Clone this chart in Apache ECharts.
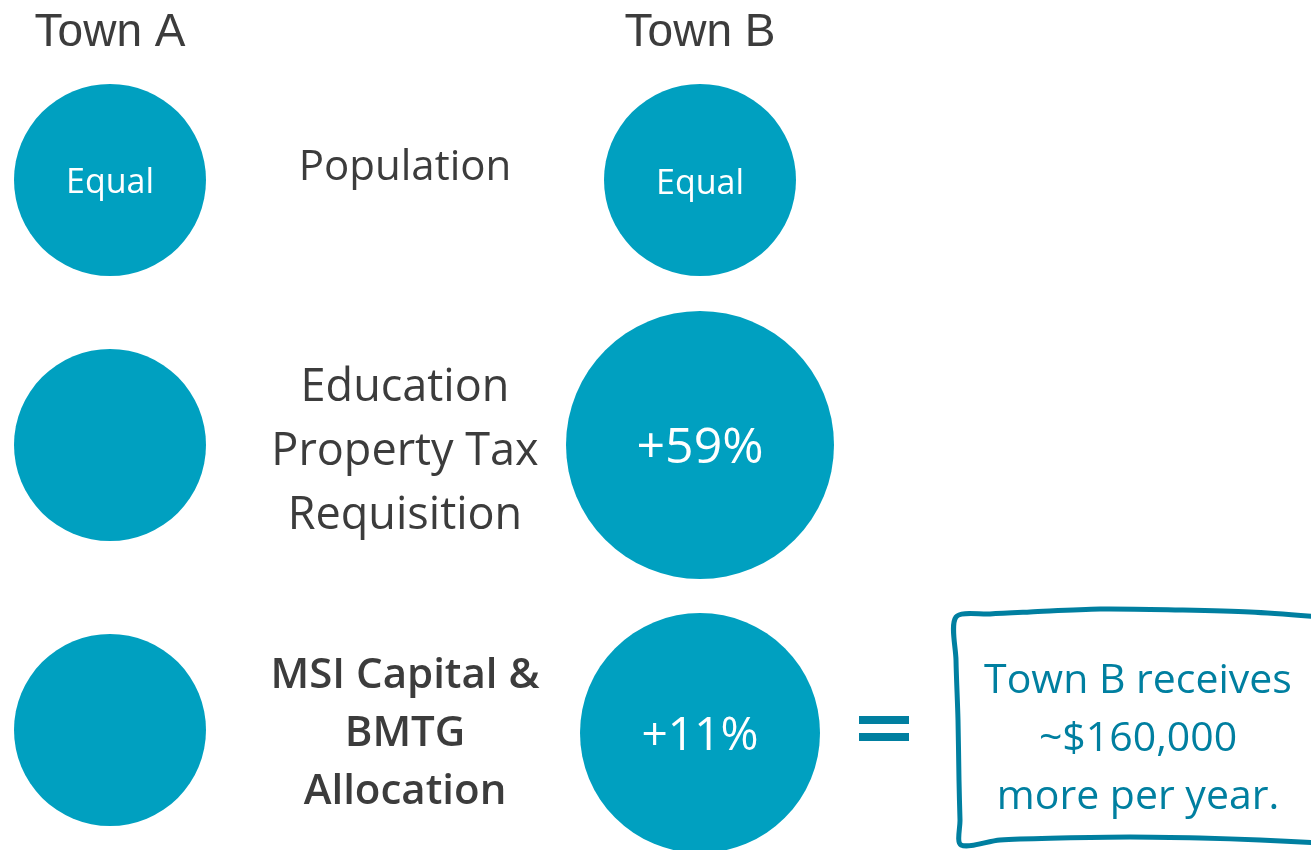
<!DOCTYPE html>
<html>
<head>
<meta charset="utf-8">
<script src="https://cdn.jsdelivr.net/npm/echarts@6/dist/echarts.min.js"></script>
<style>
  html, body { margin: 0; padding: 0; background: #fff; }
  #main { width: 1311px; height: 850px; }
</style>
</head>
<body>
<div id="main"></div>
<script>
// columns and rows
var towns = ['Town A', 'Town B'];
var metrics = ['Population', 'Education\nProperty Tax\nRequisition', 'MSI Capital &\nBMTG\nAllocation'];
// circle diameters (px)
var townASize = [192, 192, 192];
var townBSize = [192, 268, 240];
var townALabels = ['Equal', '', ''];
var townBLabels = ['Equal', '+59%', '+11%'];
var summary = 'Town B receives\n~$160,000\nmore per year.';

// layout (not data)
var colX = [110, 405, 700];
var rowY = [180, 445, 730];
var rowYB = [180, 445, 733];
var teal = '#00A0C0';
var dark = '#3c3c3c';
var boxBlue = '#007FA0';
var font = '"Open Sans", "DejaVu Sans", sans-serif';

var chart = echarts.init(document.getElementById('main'));

function circleData(sizes, labels, x, ys) {
  return sizes.map(function (s, i) {
    return { value: [x, ys[i]], symbolSize: s, label: { formatter: labels[i] } };
  });
}

var circleLabelSize = [34, 50, 46];
var circleLabelWeight = [500, 'normal', 'normal'];
var townAData = circleData(townASize, townALabels, colX[0], rowY);
var townBData = circleData(townBSize, townBLabels, colX[2], rowYB);
townBData.forEach(function (d, i) {
  d.label.fontSize = circleLabelSize[i];
  d.label.fontWeight = circleLabelWeight[i];
});

var metricStyle = [
  { fontSize: 42, lineHeight: 60, fontWeight: 'normal', y: 168 },
  { fontSize: 45, lineHeight: 64, fontWeight: 'normal', y: 452 },
  { fontSize: 42, lineHeight: 58, fontWeight: 600, y: 734 }
];

var textItem = { color: 'rgba(0,0,0,0)', opacity: 1 };

var option = {
  animation: false,
  grid: { left: 0, right: 0, top: 0, bottom: 0 },
  xAxis: { type: 'value', min: 0, max: 1311, show: false },
  yAxis: { type: 'value', min: 0, max: 850, inverse: true, show: false },
  series: [
    {
      name: towns[0],
      type: 'scatter',
      symbol: 'circle',
      itemStyle: { color: teal, opacity: 1 },
      label: { show: true, position: 'inside', color: '#fff', opacity: 1, fontSize: 34, fontWeight: 500, fontFamily: font, offset: [0, 3] },
      data: townAData,
      silent: true
    },
    {
      name: towns[1],
      type: 'scatter',
      symbol: 'circle',
      itemStyle: { color: teal, opacity: 1 },
      label: { show: true, position: 'inside', color: '#fff', opacity: 1, fontSize: 34, fontFamily: font, offset: [0, 4] },
      data: townBData,
      silent: true
    },
    {
      name: 'headers',
      type: 'scatter',
      symbolSize: 1,
      itemStyle: textItem,
      label: {
        show: true, position: 'inside', color: dark, opacity: 1, fontSize: 46,
        fontFamily: '"Liberation Sans", Arial, sans-serif',
        formatter: function (p) { return p.name; }
      },
      data: [
        { name: towns[0], value: [colX[0], 33] },
        { name: towns[1], value: [colX[2], 33] }
      ],
      silent: true
    },
    {
      name: 'metrics',
      type: 'scatter',
      symbolSize: 1,
      itemStyle: textItem,
      label: { show: true, position: 'inside', color: dark, opacity: 1, fontFamily: font, align: 'center' },
      data: metrics.map(function (m, i) {
        var st = metricStyle[i];
        return {
          name: m, value: [colX[1], st.y],
          label: { formatter: m, fontSize: st.fontSize, lineHeight: st.lineHeight, fontWeight: st.fontWeight }
        };
      }),
      silent: true
    },
    {
      name: 'summary',
      type: 'scatter',
      symbolSize: 1,
      itemStyle: textItem,
      label: {
        show: true, position: 'inside', color: boxBlue, opacity: 1, fontFamily: font,
        fontSize: 41, fontWeight: 500, lineHeight: 58, align: 'center', formatter: summary
      },
      data: [{ value: [1138, 739] }],
      silent: true
    }
  ],
  graphic: [
    // equals sign
    { type: 'rect', shape: { x: 859, y: 716, width: 50, height: 8 }, style: { fill: boxBlue } },
    { type: 'rect', shape: { x: 859, y: 733, width: 50, height: 8 }, style: { fill: boxBlue } },
    // hand drawn box
    {
      type: 'polyline',
      shape: {
        points: [
          [1320, 617], [1250, 612], [1180, 610], [1100, 609], [1030, 612], [990, 614], [956, 617],
          [956, 660], [958, 720], [959, 780], [960, 820], [961, 845],
          [1000, 840], [1060, 838], [1130, 837], [1200, 838], [1260, 840], [1320, 843]
        ],
        smooth: 0.3
      },
      style: { stroke: boxBlue, lineWidth: 5, fill: null, lineJoin: 'round' }
    }
  ]
};

chart.setOption(option);
</script>
</body>
</html>
